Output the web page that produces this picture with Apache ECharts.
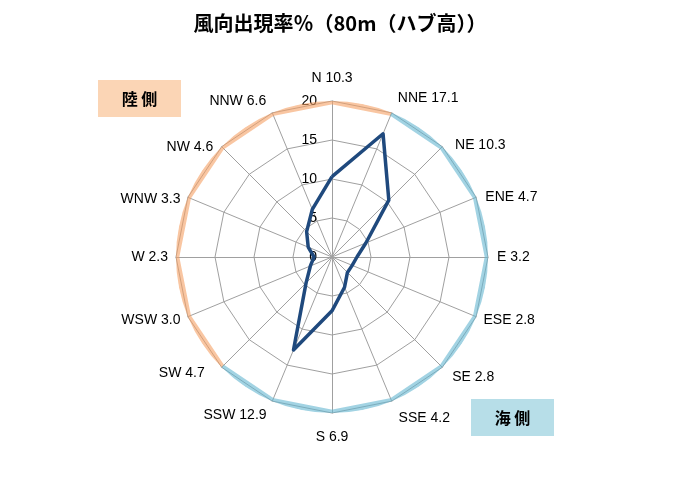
<!DOCTYPE html>
<html>
<head>
<meta charset="utf-8">
<script src="https://cdn.jsdelivr.net/npm/echarts@6/dist/echarts.min.js"></script>
<style>
html,body{margin:0;padding:0;background:#fff;}
#chart{width:680px;height:481px;}
</style>
</head>
<body>
<div id="chart"></div>
<script>
// Data (clockwise from North)
const directions = ['N','NNE','NE','ENE','E','ESE','SE','SSE','S','SSW','SW','WSW','W','WNW','NW','NNW'];
const frequency  = [10.3, 17.1, 10.3, 4.7, 3.2, 2.8, 2.8, 4.2, 6.9, 12.9, 4.7, 3.0, 2.3, 3.3, 4.6, 6.6];
const tickValues = [0, 5, 10, 15, 20];
const landSide = ['SW','WSW','W','WNW','NW','NNW','N','NNE'];
const seaSide  = ['NNE','NE','ENE','E','ESE','SE','SSE','S','SSW','SW'];
const titleText = '風向出現率％（80m（ハブ高））';
const landLabel = '陸 側';
const seaLabel  = '海 側';

// Layout / style
const CENTER = [332, 257];
const RADIUS = 156;
const MAXV = tickValues[tickValues.length - 1];
const nameGaps = {N:15,NNE:16,NE:18,ENE:10,E:9,ESE:8,SE:14,SSE:18,S:16,SSW:15,SW:24,WSW:8,W:8,WNW:8,NW:12,NNW:16};
// vertical nudges of the direction labels (px, + = down)
const nameShift = {NE:11, ENE:4, NW:9, WNW:5, NNW:3, SW:-11};

// radar goes counter-clockwise, so reverse order after N
const order = [0].concat(directions.map((d,i)=>i).slice(1).reverse());
const richStyles = {t: {fontSize: 14, lineHeight: 16, color: '#000', fontFamily: 'Liberation Sans'}};
const indicator = order.map((i, k) => {
  const d = directions[i];
  const label = d + ' ' + frequency[i].toFixed(1);
  let name = '{t|' + label + '}';
  const s = nameShift[d];
  if (s) {
    const key = 'sp' + Math.abs(s);
    richStyles[key] = {fontSize: 1, lineHeight: Math.abs(s) * 2, color: 'rgba(0,0,0,0)'};
    name = s > 0 ? '{' + key + '| }\n' + name : name + '\n{' + key + '| }';
  }
  const o = {name: name, max: MAXV, min: 0, nameGap: nameGaps[d]};
  if (k === 0) {
    o.axisLabel = {show: true, color: '#000', fontSize: 14, fontFamily: 'Liberation Sans', margin: 15};
  }
  return o;
});
const radarValues = order.map(i => frequency[i]);

const step = 360 / directions.length;
// continuous clockwise angles along a side of the outline
function continuous(side){
  const pts = [];
  let last = null;
  side.forEach(d => {
    let a = directions.indexOf(d) * step;
    if (last !== null) { while (a < last) a += 360; }
    last = a;
    pts.push([MAXV, a]);
  });
  return pts;
}

const chart = echarts.init(document.getElementById('chart'), null, {renderer: 'canvas'});
chart.setOption({
  animation: false,
  backgroundColor: '#fff',
  title: {
    text: titleText, left: 'center', top: 8,
    textStyle: {fontSize: 20, fontWeight: 'bold', color: '#000', fontFamily: 'Noto Sans CJK JP'}
  },
  radar: {
    center: CENTER, radius: RADIUS, startAngle: 90, splitNumber: 4,
    shape: 'polygon',
    indicator: indicator,
    axisName: {color: '#000', fontSize: 14, fontFamily: 'Liberation Sans', rich: richStyles},
    axisLine: {lineStyle: {color: '#a0a0a0', width: 1}},
    splitLine: {lineStyle: {color: '#a0a0a0', width: 1}},
    splitArea: {show: false},
    axisTick: {show: false},
    axisLabel: {show: false}
  },
  polar: {center: CENTER, radius: RADIUS},
  angleAxis: {type: 'value', min: 0, max: 360, startAngle: 90, clockwise: true, show: false},
  radiusAxis: {type: 'value', min: 0, max: MAXV, show: false},
  series: [
    {
      type: 'radar', z: 5,
      symbol: 'none',
      lineStyle: {color: '#1F497D', width: 3.5},
      data: [{value: radarValues}]
    },
    {
      type: 'line', coordinateSystem: 'polar', z: 4, symbol: 'none', silent: true, clip: false,
      lineStyle: {color: 'rgba(245,160,100,0.6)', width: 6.5, join: 'round'},
      data: continuous(landSide)
    },
    {
      type: 'line', coordinateSystem: 'polar', z: 4, symbol: 'none', silent: true, clip: false,
      lineStyle: {color: 'rgba(100,182,208,0.6)', width: 6.5, join: 'round'},
      data: continuous(seaSide)
    }
  ],
  graphic: [
    {type: 'group', left: 98, top: 80, children: [
      {type: 'rect', shape: {x: 0, y: 0, width: 83, height: 37}, style: {fill: '#FBD5B5'}},
      {type: 'text', x: 41.5, y: 18.5, style: {text: landLabel, fill: '#000', font: 'bold 16px "Noto Sans CJK JP"', align: 'center', verticalAlign: 'middle'}}
    ]},
    {type: 'group', left: 471, top: 399, children: [
      {type: 'rect', shape: {x: 0, y: 0, width: 83, height: 37}, style: {fill: '#B7DEE8'}},
      {type: 'text', x: 41.5, y: 18.5, style: {text: seaLabel, fill: '#000', font: 'bold 16px "Noto Sans CJK JP"', align: 'center', verticalAlign: 'middle'}}
    ]}
  ]
});
</script>
</body>
</html>
